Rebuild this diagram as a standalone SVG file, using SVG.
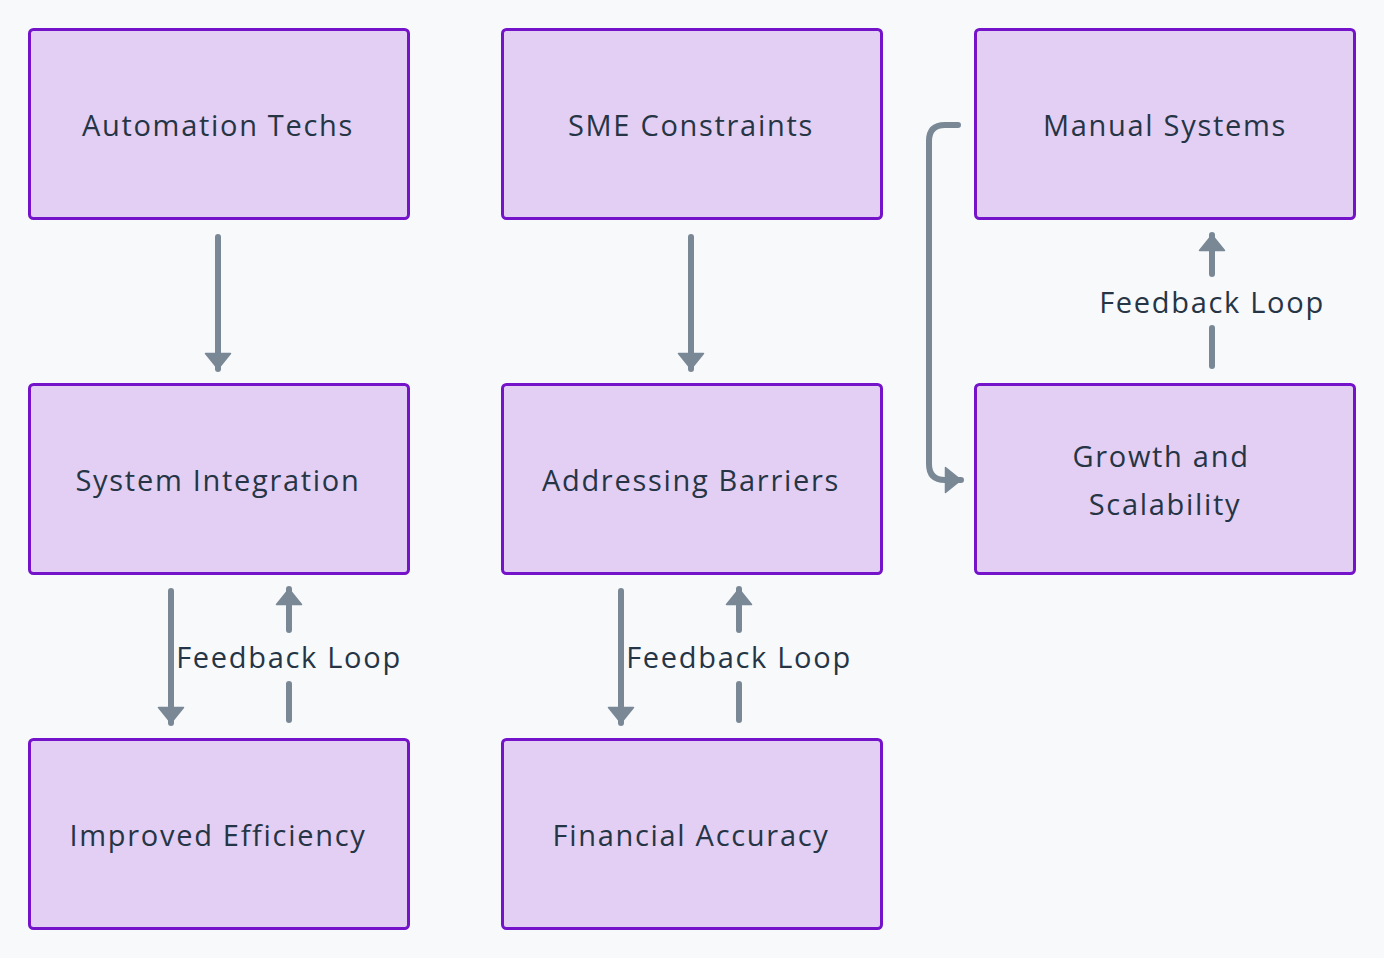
<svg xmlns="http://www.w3.org/2000/svg" width="1384" height="958" viewBox="0 0 1384 958">
<style>
.node rect{fill:#e2cff3;stroke:#7413c9;stroke-width:3}
.node text,.lbl{font-family:"Open Sans","Noto Sans",sans-serif;font-size:29px;fill:#263545;text-anchor:middle;letter-spacing:1.7px}
.edge{fill:none;stroke:#7a8896;stroke-width:6;stroke-linecap:round;stroke-linejoin:round}
</style>
<defs>
<marker id="ah" viewBox="0 0 18 28" refX="17" refY="14" markerWidth="18" markerHeight="28" orient="auto" markerUnits="userSpaceOnUse">
<path d="M1.5,1.5 L17,14 L1.5,26.5 z" fill="#7a8896" stroke="#7a8896" stroke-width="1.5" stroke-linejoin="round"/>
</marker>
</defs>
<rect width="1384" height="958" fill="#f7f9fb"/>
<g id="connectors">
<path class="edge" d="M218,237 V369" marker-end="url(#ah)"/>
<path class="edge" d="M691,237 V369" marker-end="url(#ah)"/>
<path class="edge" d="M171,591 V723" marker-end="url(#ah)"/>
<path class="edge" d="M289,720 V684 M289,630 V589" marker-end="url(#ah)"/>
<path class="edge" d="M621,591 V723" marker-end="url(#ah)"/>
<path class="edge" d="M739,720 V684 M739,630 V589" marker-end="url(#ah)"/>
<path class="edge" d="M1212,366 V328 M1212,274 V235" marker-end="url(#ah)"/>
<path class="edge" d="M958,125 H945 Q929,125 929,141 V464 Q929,480 945,480 H961" marker-end="url(#ah)"/>
<text class="lbl" x="289" y="668">Feedback Loop</text>
<text class="lbl" x="739" y="668">Feedback Loop</text>
<text class="lbl" x="1212" y="313">Feedback Loop</text>
</g>
<g id="automation" class="node"><rect x="29.5" y="29.5" width="379" height="189" rx="4"/><text x="218" y="136">Automation Techs</text></g>
<g id="sme" class="node"><rect x="502.5" y="29.5" width="379" height="189" rx="4"/><text x="691" y="136">SME Constraints</text></g>
<g id="manual" class="node"><rect x="975.5" y="29.5" width="379" height="189" rx="4"/><text x="1165" y="136">Manual Systems</text></g>
<g id="integration" class="node"><rect x="29.5" y="384.5" width="379" height="189" rx="4"/><text x="218" y="491">System Integration</text></g>
<g id="barriers" class="node"><rect x="502.5" y="384.5" width="379" height="189" rx="4"/><text x="691" y="491">Addressing Barriers</text></g>
<g id="growth" class="node"><rect x="975.5" y="384.5" width="379" height="189" rx="4"/><text x="1161" y="467">Growth and</text><text x="1165" y="515">Scalability</text></g>
<g id="efficiency" class="node"><rect x="29.5" y="739.5" width="379" height="189" rx="4"/><text x="218" y="846">Improved Efficiency</text></g>
<g id="accuracy" class="node"><rect x="502.5" y="739.5" width="379" height="189" rx="4"/><text x="691" y="846">Financial Accuracy</text></g>
</svg>
